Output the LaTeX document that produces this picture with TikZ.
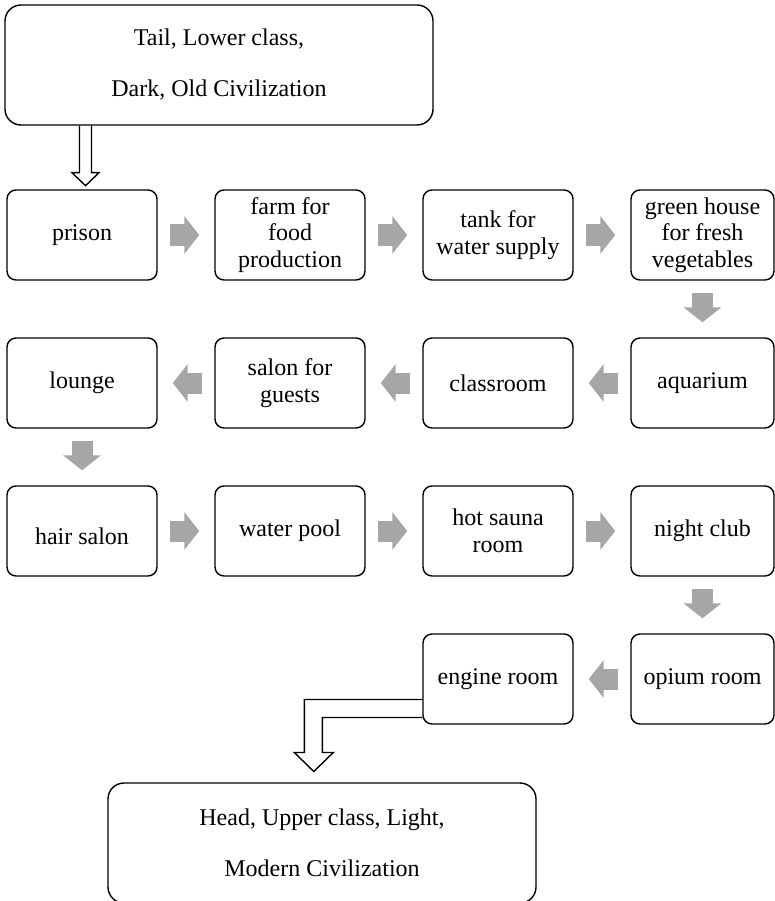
\documentclass[tikz,border=0pt]{standalone}
\usepackage{fontspec}
\setmainfont{Liberation Serif}
\usetikzlibrary{arrows.meta,positioning}
\definecolor{flowgray}{HTML}{A6A6A6}
\tikzset
{
    room/.style    = {rectangle, draw=black, line width=1.4pt, rounded corners=9pt, align=center, minimum width=150pt, minimum height=90pt, inner sep=2pt, font=\fontsize{24}{26.5}\selectfont},
    endroom/.style = {room, minimum width=143pt},
    bigbox/.style  = {room, minimum width=428pt, minimum height=120pt, rounded corners=16pt, font=\fontsize{24}{51}\selectfont},
    flow/.style    = {draw=flowgray, line width=21pt, shorten <=12pt, shorten >=15pt, -{Triangle[width=37pt, length=15pt]}},
    hollow/.style  = {draw=black, line width=1.4pt, line join=miter}
}

\begin{document}
\begin{tikzpicture}[x=1pt, y=-1pt, node distance=56.6pt]
    \useasboundingbox (0,0) rectangle (775,901);

    \node [bigbox] (tail) at (219,65) {Tail, Lower class,\\Dark, Old Civilization};

    % first row
    \node [room] (prison) at (82,235) {prison};
    \node [room, right=of prison] (farm) {farm for\\food\\production};
    \node [room, right=of farm] (tank) {tank for\\water supply};
    \node [endroom, right=of tank] (greenhouse) {green house\\for fresh\\vegetables};

    % second row
    \node [endroom, below=of greenhouse] (aquarium) {aquarium};
    \node [room, left=of aquarium] (classroom) {classroom};
    \node [room, left=of classroom] (salon) {salon for\\guests};
    \node [room, left=of salon] (lounge) {lounge};

    % third row
    \node [room, below=of lounge] (hairsalon) {\mbox{}\\hair salon};
    \node [room, right=of hairsalon] (pool) {water pool};
    \node [room, right=of pool] (sauna) {hot sauna\\room};
    \node [endroom, right=of sauna] (nightclub) {night club};

    % fourth row
    \node [endroom, below=of nightclub] (opium) {opium room};
    \node [room, left=of opium] (engine) {engine room};

    \node [bigbox] (head) at (322,843) {Head, Upper class, Light,\\Modern Civilization};

    \foreach \a/\b in {prison/farm, farm/tank, tank/greenhouse, greenhouse/aquarium,
                       aquarium/classroom, classroom/salon, salon/lounge, lounge/hairsalon,
                       hairsalon/pool, pool/sauna, sauna/nightclub, nightclub/opium, opium/engine}
        \draw [flow] (\a) -- (\b);

    % hollow arrows
    \coordinate (tailfoot) at (tail.south -| prison.north);
    \draw [hollow] ([xshift=-2.5pt]tailfoot) -- ++(0,47) -- ++(-7.5,0) -- ++(13.5,13) -- ++(13.5,-13) -- ++(-7.5,0) -- ++(0,-47);
    \draw [hollow] ([yshift=-20.5pt]engine.west) -- ++(-118,0) -- ++(0,53) -- ++(-10,0) -- ++(19.5,19) -- ++(19.5,-19) -- ++(-11,0) -- ++(0,-35) -- ++(100,0);
\end{tikzpicture}
\end{document}
